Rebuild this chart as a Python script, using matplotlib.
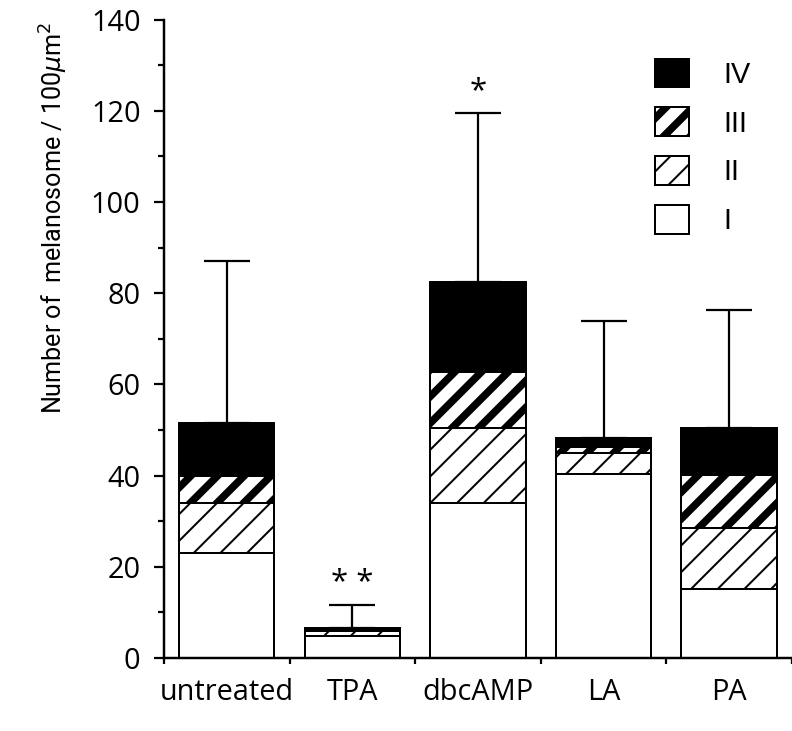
import matplotlib
matplotlib.use("Agg")
import matplotlib.pyplot as plt
import numpy as np

# data
groups = ["untreated", "TPA", "dbcAMP", "LA", "PA"]
stage_names = ["I", "II", "III", "IV"]
stage_I = [23.0, 4.7, 34.0, 40.3, 15.2]
stage_II = [11.0, 1.3, 16.5, 4.7, 13.3]
stage_III = [6.0, 0.3, 12.3, 1.3, 11.7]
stage_IV = [11.6, 0.3, 19.7, 2.0, 10.3]
sd_upper = [35.4, 5.0, 37.0, 25.5, 25.8]
signif = ["", "* *", "*", "", ""]

DPI = 160
PLAIN = ["Liberation Sans", "DejaVu Sans"]
ROUND = ["Open Sans", "DejaVu Sans"]


def main():
    plt.rcParams["font.family"] = PLAIN
    fig = plt.figure(figsize=(792 / DPI, 731 / DPI), dpi=DPI)
    ax = fig.add_axes([0.207, 0.100, 0.793, 0.873])

    x = np.arange(len(groups))
    width = 0.76
    layers = [stage_I, stage_II, stage_III, stage_IV]
    faces = ["white", "white", "white", "black"]
    hatches = [None, "//", "//", None]
    hatch_lw = [1.0, 0.9, 3.4, 1.0]

    bottom = np.zeros(len(groups))
    handles = []
    for vals, fc, h, hlw, name in zip(layers, faces, hatches, hatch_lw, stage_names):
        bars = ax.bar(x, vals, width, bottom=bottom, color=fc, edgecolor="black",
                      linewidth=0.9, hatch=h, label=name, zorder=2)
        for b in bars:
            if hasattr(b, "set_hatch_linewidth"):
                b.set_hatch_linewidth(hlw)
        handles.append(bars)
        bottom = bottom + np.array(vals)

    totals = bottom
    ax.errorbar(x, totals, yerr=[np.zeros(len(groups)), sd_upper], fmt="none",
                ecolor="black", elinewidth=1.0, capsize=10.5, capthick=1.0, zorder=1)

    for xi, top, sd, s in zip(x, totals, sd_upper, signif):
        if s:
            ax.text(xi, top + sd + 1.5, s, ha="center", va="bottom", fontsize=14,
                    family=ROUND)

    ax.set_xlim(-0.5, 4.46)
    ax.set_ylim(0, 140)
    ax.spines["top"].set_visible(False)
    ax.spines["right"].set_visible(False)
    ax.spines["left"].set_linewidth(1.1)
    ax.spines["bottom"].set_linewidth(1.1)

    ax.set_yticks(np.arange(0, 141, 20))
    ax.set_yticks(np.arange(10, 140, 20), minor=True)
    ax.tick_params(axis="y", which="major", direction="out", length=4.5, width=1.0,
                   labelsize=13, pad=6)
    ax.tick_params(axis="y", which="minor", direction="out", length=2.5, width=1.0)
    ax.set_yticklabels([str(v) for v in range(0, 141, 20)], family=ROUND)

    ax.set_xticks(x)
    ax.set_xticklabels(groups, fontsize=13, family=ROUND)
    ax.tick_params(axis="x", which="major", length=0, pad=9)
    ax.set_xticks(np.arange(-0.5, 4.6, 1.0), minor=True)
    ax.tick_params(axis="x", which="minor", direction="out", length=2.5, width=1.0)

    ax.set_ylabel(r"Number of  melanosome / 100$\mu$m$^2$", fontsize=11.3,
                  family=["Roboto", "DejaVu Sans"])
    ax.yaxis.set_label_coords(-0.15, 0.69)

    leg = ax.legend(handles[::-1], stage_names[::-1], loc="upper left",
                    bbox_to_anchor=(0.741, 0.98), frameon=False, fontsize=13,
                    handlelength=1.15, handleheight=1.15, labelspacing=0.65,
                    handletextpad=1.2)
    for patch, hlw in zip(leg.get_patches(), hatch_lw[::-1]):
        if hasattr(patch, "set_hatch_linewidth"):
            patch.set_hatch_linewidth(hlw)

    fig.savefig("out.png", dpi=DPI)
    plt.close(fig)


if __name__ == "__main__":
    main()
